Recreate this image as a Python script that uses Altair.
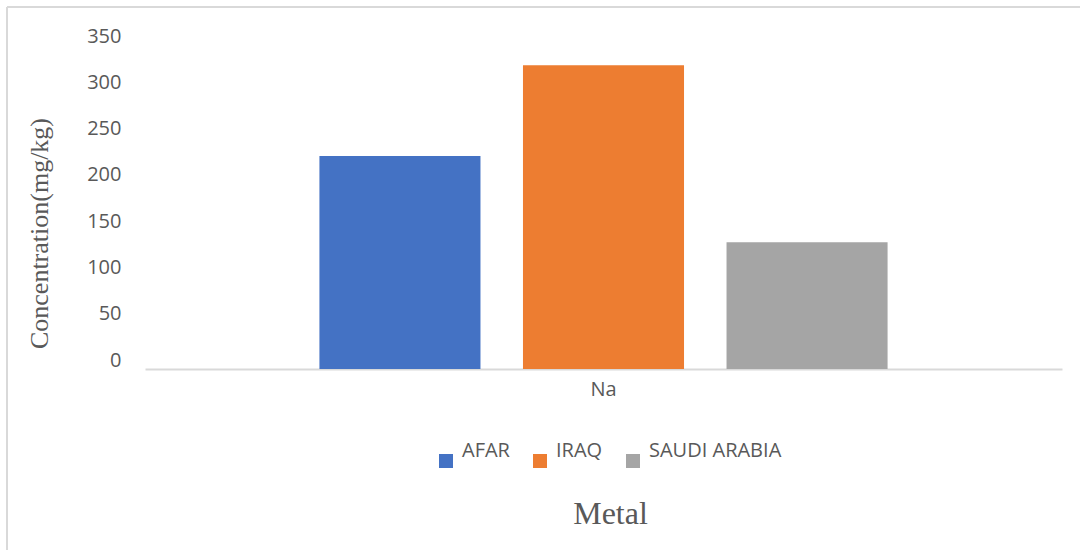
import altair as alt
import pandas as pd

countries = ["AFAR", "IRAQ", "SAUDI ARABIA"]
values = [230, 328, 137]
metal = ["Na", "Na", "Na"]
colors = ["#4472C4", "#ED7D31", "#A5A5A5"]
y_ticks = [0, 50, 100, 150, 200, 250, 300, 350]

df = pd.DataFrame({"Metal": metal, "Country": countries, "Value": values})

bars = alt.Chart(df).mark_bar().encode(
    x=alt.X(
        "Metal:N",
        scale=alt.Scale(paddingInner=0, paddingOuter=0.307),
        axis=alt.Axis(
            title="Metal",
            labelAngle=0,
            labelFont="Open Sans",
            labelFontSize=20,
            labelColor="#595959",
            labelPadding=10,
            ticks=False,
            domainColor="#D9D9D9",
            domainWidth=2,
            titleFont="Liberation Serif",
            titleFontSize=32,
            titleFontWeight="normal",
            titleColor="#595959",
            titleX=465,
            titleY=154,
            titleAlign="center",
            titleBaseline="alphabetic",
        ),
    ),
    xOffset=alt.XOffset(
        "Country:N",
        sort=countries,
        scale=alt.Scale(paddingInner=0.2088, paddingOuter=0),
    ),
    y=alt.Y(
        "Value:Q",
        scale=alt.Scale(domain=[0, 350], nice=False),
        axis=alt.Axis(
            title="Concentration(mg/kg)",
            values=y_ticks,
            grid=False,
            domain=False,
            ticks=False,
            labelFont="Open Sans",
            labelFontSize=20,
            labelColor="#595959",
            labelPadding=24,
            labelOffset=-9,
            titleFont="Liberation Serif",
            titleFontSize=26,
            titleFontWeight="normal",
            titleColor="#595959",
            titleAngle=270,
            titleX=-106,
            titleY=188,
            titleAlign="center",
            titleBaseline="middle",
        ),
    ),
    color=alt.Color(
        "Country:N",
        sort=countries,
        scale=alt.Scale(domain=countries, range=colors),
        legend=alt.Legend(
            title=None,
            orient="none",
            direction="horizontal",
            legendX=291,
            legendY=406,
            symbolType="square",
            symbolSize=196,
            symbolStrokeWidth=0,
            symbolOpacity=1,
            labelFont="Open Sans",
            labelFontSize=20,
            labelColor="#595959",
            labelOffset=6,
            labelBaseline="bottom",
            columnPadding=20,
        ),
    ),
)

border_v = alt.Chart(df).mark_rule(color="#D9D9D9", strokeWidth=2).encode(
    x=alt.value(-138), y=alt.value(-38), y2=alt.value(505)
)
border_h = alt.Chart(df).mark_rule(color="#D9D9D9", strokeWidth=2).encode(
    x=alt.value(-138), x2=alt.value(935), y=alt.value(-38)
)

chart = alt.layer(border_v, border_h, bars).properties(
    width=917,
    height=324,
    autosize=alt.AutoSizeParams(type="none"),
    padding={"left": 145, "top": 45, "right": 18, "bottom": 181},
    background="white",
).configure_view(stroke=None)

chart.save("out.html", embed_options={"renderer": "svg", "actions": False})
